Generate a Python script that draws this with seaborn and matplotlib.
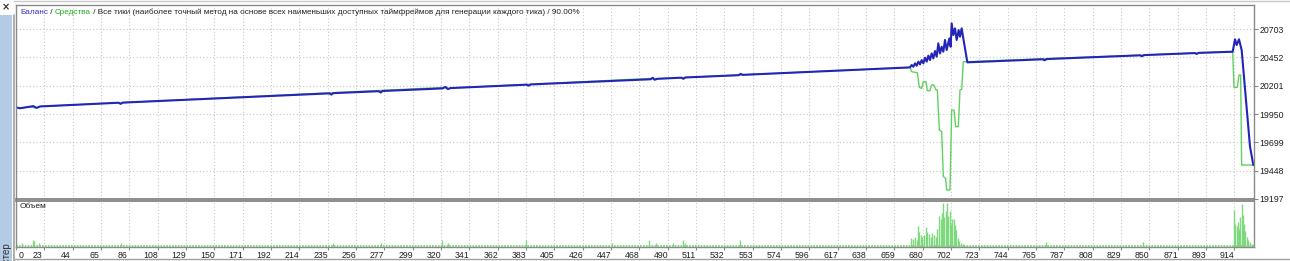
import matplotlib
matplotlib.use("Agg")
import matplotlib.pyplot as plt
import matplotlib.transforms as mtransforms
from matplotlib.patches import Rectangle
from matplotlib.lines import Line2D
from matplotlib.font_manager import FontProperties
import seaborn as sns
import pandas as pd

# ---------------- data ----------------
balance_x = [0, 3, 11, 13, 15.5, 18, 77, 78.5, 80, 235, 236.5, 238, 272, 273.5, 275,
             320, 322, 324, 326, 383, 384.5, 386, 476, 477.5, 479, 481, 499, 500.5, 502,
             542, 543.5, 545, 670.5, 671.75, 673, 674.25, 675.5, 676.75, 678, 679.25,
             680.5, 681.75, 683, 684.25, 685.5, 686.75, 688, 689.25, 690.5, 691.75, 693,
             694.25, 695.5, 696.75, 698, 700, 701, 701.75, 703, 704.25, 705.5, 707, 708,
             709.25, 710.5, 713.5, 770, 771.5, 773, 843, 844.5, 846, 884, 885.5, 887,
             912.5, 914.25, 915.5, 917.25, 919.25, 925.5, 928]
balance_y = [20009, 20001, 20016, 20020, 20004, 20017, 20050, 20041, 20051, 20133, 20122, 20135,
             20152, 20141, 20154, 20177, 20190, 20172, 20180, 20210, 20201, 20212, 20258,
             20271, 20255, 20262, 20272, 20262, 20274, 20294, 20306, 20297, 20363, 20384,
             20369, 20399, 20378, 20414, 20390, 20428, 20399, 20449, 20414, 20467, 20428,
             20487, 20443, 20508, 20458, 20576, 20487, 20546, 20502, 20606, 20517, 20620,
             20546, 20753, 20650, 20709, 20606, 20694, 20635, 20709, 20620, 20408, 20435,
             20426, 20437, 20470, 20462, 20472, 20490, 20482, 20492, 20502, 20612, 20561,
             20612, 20517, 19661, 19498]

equity_x = [0, 3, 11, 13.5, 15.5, 18, 77, 78.5, 80, 322, 323.5, 326, 477.5, 479, 481, 545,
            670.5, 671.75, 676, 677.5, 679.25, 680.5, 682.5, 683.5, 685.5, 686.75, 688.5,
            690, 691, 692.5, 694.25, 695.5, 697.25, 698, 700.5, 701.75, 703.5, 704.75,
            706.75, 708, 709.25, 710.5, 713.5, 912.5, 913.5, 916, 917.25, 918.5, 919.25, 928]
equity_y = [20009, 20001, 20016, 20006, 20004, 20017, 20050, 20036, 20051, 20186, 20168, 20180,
            20266, 20250, 20262, 20297, 20363, 20325, 20316, 20186, 20177, 20237, 20237,
            20157, 20157, 20207, 20207, 20163, 20163, 19808, 19794, 19395, 19380, 19277,
            19277, 19985, 19985, 19838, 19838, 20163, 20169, 20414, 20414, 20502, 20186,
            20186, 20296, 20296, 19498, 19498]

volume_x = [4.5, 13, 13.75, 17.5, 79, 238, 274, 319.25, 324.25, 382.5, 447.25, 475, 480,
            492.5, 500.5, 501.75, 543,
            671.25, 672.5, 674.25, 675.5, 676.75, 677.5, 678.5, 679.75, 681, 682.5, 683.5,
            684.75, 686, 687.25, 688.5, 689.75, 691, 692.25, 693.5, 694.75, 695.5, 696.25,
            697.25, 698.25, 699.25, 700.25, 701.25, 702.25, 703.25, 704.25, 705.25, 706.25,
            707.5, 708.75, 710,
            772.5, 845,
            913.5, 914.5, 915.5, 916.5, 917.5, 918.25, 919.25, 920, 921, 922, 923, 924,
            925.5, 926.75]
volume_h = [8, 16, 13, 9, 9, 9, 9, 16, 9, 16, 9, 16, 9, 9, 16, 9, 16,
            20, 17, 22, 15, 45, 33, 27, 22, 27, 43, 33, 29, 22, 31, 27, 22, 40, 67, 61, 75,
            95, 65, 79, 95, 68, 79, 50, 61, 60, 47, 36, 20, 13, 9, 6,
            11, 11,
            80, 50, 45, 55, 40, 65, 93, 70, 50, 35, 22, 15, 10, 6]
volume_base = 4

y_ticks = [19197, 19448, 19699, 19950, 20201, 20452, 20703]
x_tick_labels = ["0", "23", "44", "65", "86", "108", "129", "150", "171", "192", "214", "235",
                 "256", "277", "299", "320", "341", "362", "383", "405", "426", "447", "468",
                 "490", "511", "532", "553", "574", "596", "617", "638", "659", "680", "702",
                 "723", "744", "765", "787", "808", "829", "850", "871", "893", "914"]
tick_step = 21.25

# ---------------- style ----------------
W, H = 1290, 261
BLUE = "#2424B8"
GREEN = "#62D062"
VOLGREEN = "#7ED87E"
GRID = "#C8C8C8"
FRAME = "#8A8A8A"
TXT = "#202020"
FONT = "Liberation Sans"

sns.set_theme(style="white")
plt.rcParams["font.family"] = [FONT, "DejaVu Sans"]

fig = plt.figure(figsize=(W / 100, H / 100), dpi=100)
fig.patch.set_facecolor("white")

def fbox(x0, y0, x1, y1):
    return [x0 / W, 1 - y1 / H, (x1 - x0) / W, (y1 - y0) / H]

ax = fig.add_axes(fbox(16, 5, 1254, 199))
axv = fig.add_axes(fbox(16, 201, 1254, 247))

xmax = (1254 - 16) * 0.75
xt = [k * tick_step for k in range(len(x_tick_labels))]

bal = pd.DataFrame({"x": balance_x, "y": balance_y})
eq = pd.DataFrame({"x": equity_x, "y": equity_y})
sns.lineplot(data=eq, x="x", y="y", ax=ax, color=GREEN, lw=1.0, estimator=None, sort=False)
sns.lineplot(data=bal, x="x", y="y", ax=ax, color=BLUE, lw=1.5, estimator=None, sort=False)

ax.set_xlim(0, xmax)
ax.set_ylim(19197, 20916)
ax.set_xlabel("")
ax.set_ylabel("")
ax.set_xticks(xt)
ax.set_yticks(y_ticks)
ax.set_yticklabels([str(v) for v in y_ticks])
ax.yaxis.tick_right()
ax.tick_params(axis="y", which="both", right=True, left=False, length=3, width=0.8,
               color=FRAME, labelsize=6.3, labelcolor=TXT, pad=1.0)
ax.tick_params(axis="x", bottom=False, labelbottom=False)
ax.grid(True, color=GRID, linestyle=(0, (1, 2)), lw=0.8)

# volume
axv.vlines(volume_x, 0, volume_h, color=VOLGREEN, lw=1.0)
axv.axhline(volume_base / 2, color=VOLGREEN, lw=1.3, ls=(0, (1, 0.6)))
axv.set_xlim(0, xmax)
axv.set_ylim(0, 100)
axv.set_yticks([])
axv.set_xticks(xt)
axv.set_xticklabels(x_tick_labels)
axv.tick_params(axis="x", bottom=True, length=2, width=0.8, color=FRAME, labelsize=6.3,
                labelcolor=TXT, pad=1.0)
axv.grid(True, axis="x", color=GRID, linestyle=(0, (1, 2)), lw=0.8)
for i, lab in enumerate(axv.get_xticklabels()):
    dx = 4 / 72 if i == 0 else -5 / 72
    lab.set_transform(lab.get_transform() + mtransforms.ScaledTranslation(dx, 0, fig.dpi_scale_trans))
fig.text(20 / W, 1 - 207 / H, "Объем", fontsize=6.0, color=TXT, ha="left", va="center")

for a in (ax, axv):
    a.set_facecolor("white")
    for s in a.spines.values():
        s.set_color(FRAME)
        s.set_linewidth(1.0)
ax.spines["bottom"].set_linewidth(1.2)
ax.spines["bottom"].set_color("#7A7A7A")
axv.spines["top"].set_linewidth(1.2)
axv.spines["top"].set_color("#7A7A7A")

# left side panel
fig.patches.append(Rectangle((0, 0), 12 / W, 1 - 15 / H, transform=fig.transFigure,
                             facecolor="#B4CBE6", edgecolor="none", zorder=0))
fig.lines.append(Line2D([13.5 / W, 13.5 / W], [0, 1 - 15 / H], transform=fig.transFigure,
                        color="#A0A0A0", lw=1.2))
fig.text(6 / W, 1 - 7 / H, "×", fontsize=7, color="#333333", ha="center", va="center",
         fontweight="bold", family="DejaVu Sans")
fig.text(6.5 / W, 1 - 242 / H, "Тестер", fontsize=7, color="#333333", rotation=90,
         ha="center", va="top")
fig.lines.append(Line2D([14 / W, 1], [1 - 259 / H, 1 - 259 / H], transform=fig.transFigure,
                        color="#A0A0A0", lw=1.0))
fig.lines.append(Line2D([14 / W, 1], [1 - 1 / H, 1 - 1 / H], transform=fig.transFigure,
                        color="#C8C8C8", lw=1.0))

# title with coloured parts
parts = [("Баланс", "#3030C8"), (" / ", TXT), ("Средства", "#20B020"),
         (" / Все тики (наиболее точный метод на основе всех наименьших доступных таймфреймов для генерации каждого тика) / 90.00%", TXT)]
fs = 5.9
renderer = fig.canvas.get_renderer()
prop = FontProperties(family=FONT, size=fs)
bar_w = renderer.get_text_width_height_descent("|", prop, ismath=False)[0]
prefix = ""
x0 = 20
for s, c in parts:
    w = renderer.get_text_width_height_descent(prefix + "|", prop, ismath=False)[0] - bar_w if prefix else 0
    fig.text((x0 + w) / W, 1 - 12.5 / H, s, color=c, ha="left", va="center",
             fontproperties=prop)
    prefix += s

fig.savefig("out.png", dpi=100, facecolor="white")
